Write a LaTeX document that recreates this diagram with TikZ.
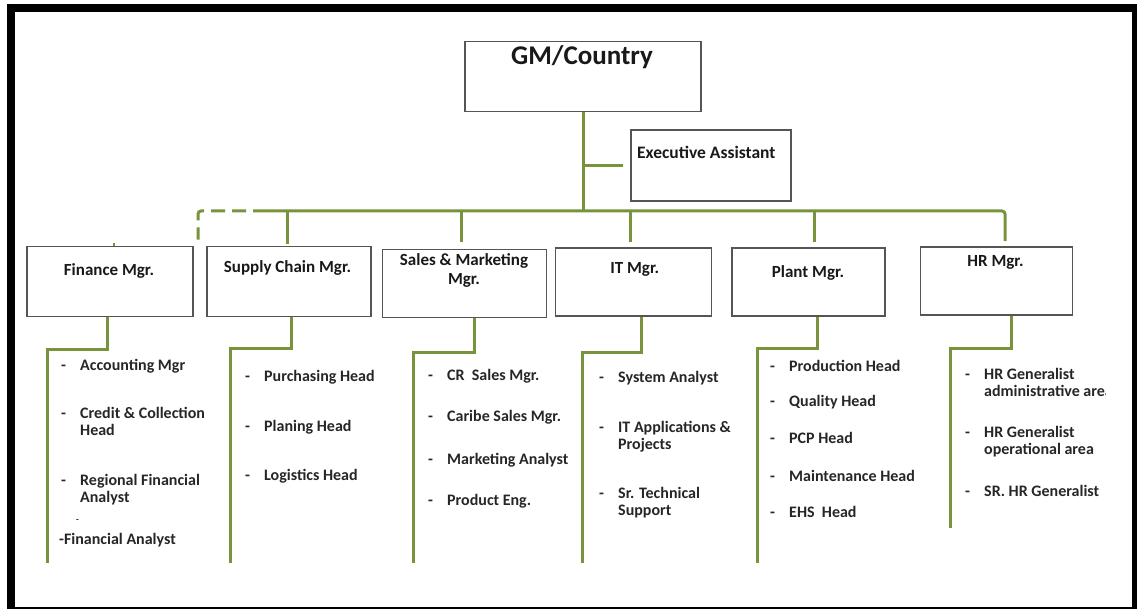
\documentclass[tikz,border=0pt]{standalone}
\usepackage{fontspec}
\setmainfont{Carlito}
\definecolor{linegreen}{RGB}{119,147,60}
\definecolor{boxline}{RGB}{85,85,85}
\newcommand{\dsh}{\makebox[19pt][l]{-}}
\newcommand{\ind}{\hspace*{19pt}}

\begin{document}
\begin{tikzpicture}[x=1pt, y=-1pt,
  conn/.style={draw=linegreen, line width=3pt},
  dashconn/.style={conn, dash pattern=on 14pt off 7pt},
  box/.style={rectangle, draw=boxline, line width=1.6pt, fill=white,
              inner sep=0pt},
  mgr/.style={font=\bfseries\fontsize{17}{19}\selectfont, align=center,
              inner sep=0pt, text=black!90},
  item/.style={font=\bfseries\fontsize{16}{17}\selectfont, align=left,
               anchor=base west, inner sep=0pt, text=black!85}
]
  \useasboundingbox (0,0) rectangle (1137,609);
  % outer frame
  \begin{scope}
    \clip (0,0) rectangle (1137,609);
    \draw[line width=8pt] (11,8) rectangle (1136,611);
  \end{scope}

  % top boxes
  \node[box, minimum width=236pt, minimum height=70pt] (gm) at (583,76.7) {};
  \node[font=\bfseries\fontsize{27}{30}\selectfont, inner sep=0pt, text=black!90]
    (gmL) at (582,57) {GM/Country};
  \node[box, minimum width=160pt, minimum height=71pt] (ea) at (711,165.3) {};
  \node[mgr, anchor=west, font=\bfseries\fontsize{17.5}{19}\selectfont]
    (eaL) at (637,152) {Executive Assistant};

  % managers
  \node[box, minimum width=166pt, minimum height=70pt] (fin) at (110.2,281.5) {};
  \node[box, minimum width=164pt, minimum height=70pt] (sup) at (289.2,281.5) {};
  \node[box, minimum width=164pt, minimum height=68pt] (sal) at (464.5,283.7) {};
  \node[box, minimum width=156pt, minimum height=68pt] (it) at (633.3,282.3) {};
  \node[box, minimum width=153pt, minimum height=68pt] (pla) at (808.5,282.3) {};
  \node[box, minimum width=152pt, minimum height=68pt] (hr) at (996.3,280.9) {};
  \node[mgr] (finL) at (109,271) {Finance Mgr.};
  \node[mgr] (supL) at (287.5,268) {Supply Chain Mgr.};
  \node[mgr] (salL) at (464,270.5) {Sales \& Marketing\\Mgr.};
  \node[mgr] (itL) at (634.7,269.3) {IT Mgr.};
  \node[mgr] (plaL) at (808,273.3) {Plant Mgr.};
  \node[mgr] (hrL) at (995.5,262.7) {HR Mgr.};

  % bus and drops
  \coordinate (busL) at (267,211);
  \coordinate (busR) at (1005,211);
  \coordinate (dashC) at (198,211);
  \draw[conn] (gm.south) -- (gm.south |- busL);
  \draw[conn] ([xshift=-7pt]ea.west) -- (ea.west -| gm.south);
  \draw[conn, rounded corners=3pt] (busL) -- (busR)
    -- ([yshift=5pt]hr.north -| busR);
  \draw[dashconn, rounded corners=3pt] (busL) -- (dashC)
    -- ([yshift=6pt]fin.north -| dashC);
  \draw[conn] ([xshift=-1.5pt,yshift=1.5pt]sup.north) -- ([xshift=-1.5pt]sup.north |- busL);
  \draw[conn] ([xshift=-2.8pt,yshift=6.5pt]sal.north) -- ([xshift=-2.8pt]sal.north |- busL);
  \draw[conn] ([xshift=-3.3pt,yshift=5.3pt]it.north) -- ([xshift=-3.3pt]it.north |- busL);
  \draw[conn] ([xshift=5.5pt,yshift=5.3pt]pla.north) -- ([xshift=5.5pt]pla.north |- busL);
  \draw[linegreen, line width=2pt] ([xshift=4pt]fin.north) -- ++(0,-3);

  % column lines
  \coordinate (finEnd) at (47,563);
  \coordinate (supEnd) at (230,563);
  \coordinate (salEnd) at (413,563);
  \coordinate (itEnd) at (582,563);
  \coordinate (plaEnd) at (757,563);
  \coordinate (hrEnd) at (950,528);
  \draw[conn] ([xshift=-2.5pt]fin.south) -- ++(0,32) -| (finEnd);
  \draw[conn] ([xshift=1.8pt]sup.south) -- ++(0,31.5) -| (supEnd);
  \draw[conn] ([xshift=9.5pt]sal.south) -- ++(0,34) -| (salEnd);
  \draw[conn] ([xshift=8.4pt]it.south) -- ++(0,35.4) -| (itEnd);
  \draw[conn] ([xshift=9.2pt]pla.south) -- ++(0,31.4) -| (plaEnd);
  \draw[conn] ([xshift=14.7pt]hr.south) -- ++(0,33) -| (hrEnd);

  % finance
  \node[item] (fin1) at (61,370) {\dsh Accounting Mgr};
  \node[item] (fin2) at (61,435.5) {\dsh Credit \& Collection\\\ind Head};
  \node[item] (fin3) at (61,502) {\dsh Regional Financial\\\ind Analyst};
  \node[item, font=\bfseries\fontsize{9}{9}\selectfont] (fin4) at (76,522) {-};
  \node[item] (fin5) at (59,544) {-Financial Analyst};

  % supply chain
  \node[item] (sup1) at (245,381) {\dsh Purchasing Head};
  \node[item] (sup2) at (245,431) {\dsh Planing Head};
  \node[item] (sup3) at (245,480) {\dsh Logistics Head};

  % sales
  \node[item] (sal1) at (428,380) {\dsh CR\ \ Sales Mgr.};
  \node[item] (sal2) at (428,421.7) {\dsh Caribe Sales Mgr.};
  \node[item] (sal3) at (428,464) {\dsh Marketing Analyst};
  \node[item] (sal4) at (428,505) {\dsh Product Eng.};

  % it
  \node[item] (it1) at (599,382.3) {\dsh System Analyst};
  \node[item] (it2) at (599,449) {\dsh IT Applications \&\\\ind Projects};
  \node[item] (it3) at (599,515) {\dsh Sr. Technical\\\ind Support};

  % plant
  \node[item] (pla1) at (770,371) {\dsh Production Head};
  \node[item] (pla2) at (770,406.7) {\dsh Quality Head};
  \node[item] (pla3) at (770,443.3) {\dsh PCP Head};
  \node[item] (pla4) at (770,481) {\dsh Maintenance Head};
  \node[item] (pla5) at (770,517.7) {\dsh EHS\ \ Head};

  % hr
  \begin{scope}
    \clip (940,355) rectangle (1105,515);
    \node[item] (hr1) at (965,396) {\dsh HR Generalist\\\ind administrative area};
    \node[item] (hr2) at (965,454.5) {\dsh HR Generalist\\\ind operational area};
    \node[item] (hr3) at (965,496.7) {\dsh SR. HR Generalist};
  \end{scope}
\end{tikzpicture}
\end{document}
